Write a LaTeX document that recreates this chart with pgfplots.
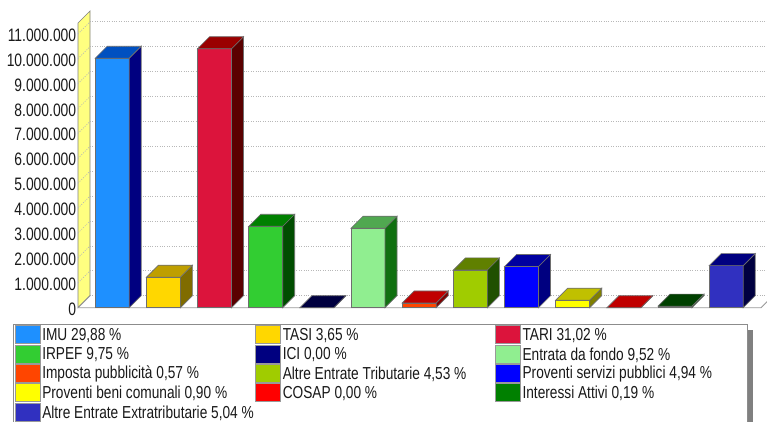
\documentclass[border=0pt]{standalone}
\usepackage{pgfplots}
\pgfplotsset{compat=1.18}
\usepackage{fontspec}
\setmainfont{Liberation Sans}
\newfontfamily\cond[FakeStretch=0.79]{Liberation Sans}
\newfontfamily\condt[FakeStretch=0.77]{Liberation Sans}
\definecolor{bd}{HTML}{6E6E6E}
\definecolor{wall}{HTML}{FFFF80}
\definecolor{imuf}{HTML}{1E90FF}\definecolor{imut}{HTML}{0050C0}\definecolor{imus}{HTML}{000080}
\definecolor{tasif}{HTML}{FFD700}\definecolor{tasit}{HTML}{BF9F00}\definecolor{tasis}{HTML}{806C00}
\definecolor{tarif}{HTML}{DC143C}\definecolor{tarit}{HTML}{9A0000}\definecolor{taris}{HTML}{5A0000}
\definecolor{irpf}{HTML}{32CD32}\definecolor{irpt}{HTML}{008000}\definecolor{irps}{HTML}{004D00}
\definecolor{icif}{HTML}{000080}\definecolor{icit}{HTML}{000040}
\definecolor{entf}{HTML}{90EE90}\definecolor{entt}{HTML}{50A850}\definecolor{ents}{HTML}{107010}
\definecolor{impf}{HTML}{FF4500}\definecolor{impt}{HTML}{C00000}\definecolor{imps}{HTML}{800000}
\definecolor{altf}{HTML}{A0CC00}\definecolor{altt}{HTML}{608000}\definecolor{alts}{HTML}{205000}
\definecolor{prof}{HTML}{0000FF}\definecolor{prot}{HTML}{0000A0}\definecolor{pros}{HTML}{000080}
\definecolor{benf}{HTML}{FFFF00}\definecolor{bent}{HTML}{C0C000}\definecolor{bens}{HTML}{808000}
\definecolor{cosf}{HTML}{FF0000}
\definecolor{intf}{HTML}{008000}\definecolor{intt}{HTML}{004000}
\definecolor{extf}{HTML}{3030C0}\definecolor{extt}{HTML}{000080}\definecolor{exts}{HTML}{000040}
\newcommand\threeD[7]{% index, front value, back value, front, top, side, border
  \pgfmathsetmacro\xa{#1-0.332}\pgfmathsetmacro\xb{#1+0.332}%
  \pgfmathsetmacro\xc{#1-0.332+0.2345}\pgfmathsetmacro\xd{#1+0.332+0.2345}%
  \edef\temp{%
    \noexpand\addplot[fill=#4,draw=#7,line width=0.5pt,mark=none,forget plot] coordinates {(\xa,0) (\xb,0) (\xb,#2) (\xa,#2)} --cycle;
    \noexpand\addplot[fill=#6,draw=#7,line width=0.5pt,mark=none,forget plot] coordinates {(\xb,0) (\xd,481928) (\xd,#3) (\xb,#2)} --cycle;
    \noexpand\addplot[fill=#5,draw=#7,line width=0.5pt,mark=none,forget plot] coordinates {(\xa,#2) (\xb,#2) (\xd,#3) (\xc,#3)} --cycle;
  }\temp
}
\newcommand\legitem[4]{% x, y, colour hex, text
  \definecolor{tmpc}{HTML}{#3}%
  \fill[tmpc] (#1,#2) rectangle ++(25,18);
  \draw[gray!80,line width=0.5pt] (#1,#2) rectangle ++(25,18);
  \node[anchor=west,inner sep=0pt,font=\cond\fontsize{13}{13}\selectfont,text=black!90] at (#1+27,#2+10) {#4};
}
\begin{document}
\begin{tikzpicture}[x=0.75pt,y=-0.75pt]
\path[use as bounding box] (0,0) rectangle (767,421);
\clip (0,0) rectangle (767,421);
% back wall and grid
\fill[white] (0,0) rectangle (767,421);
\fill[wall,draw=gray,line width=0.5pt] (78,307.7)--(90,295.7)--(90,11)--(78,23)--cycle;
\foreach \t in {1,...,11}{
  \pgfmathsetmacro\yy{295.7-24.9*\t}
  \draw[black!28,dash pattern=on 0.8pt off 1pt,line width=0.5pt] (90,\yy)--(767,\yy);
  \draw[black!28,dash pattern=on 0.8pt off 1pt,line width=0.5pt] (78,\yy+12)--(90,\yy);
}
\draw[black!30,dash pattern=on 0.8pt off 1pt,line width=0.5pt] (90,295.7)--(767,295.7);
\draw[black!40,line width=0.6pt] (78,307.7)--(90,295.7);
\draw[black!40,line width=0.6pt] (78,307.7)--(761,307.7)--(773,295.7);
\begin{axis}[
  at={(58.5pt,-230.775pt)},anchor=south west,
  scale only axis,width=512.25pt,height=213.46pt,
  xmin=-0.668,xmax=12.68,ymin=0,ymax=11430000,
  clip=false,
  axis line style={draw=none},
  xtick=\empty,
  ytick={0,1000000,2000000,3000000,4000000,5000000,6000000,7000000,8000000,9000000,10000000,11000000},
  major tick length=0pt,
  scaled y ticks=false,
  yticklabel style={font=\condt\fontsize{13.5}{13.5}\selectfont,text=black!90,inner sep=0pt,xshift=-1.2pt,yshift=-1pt,
    /pgf/number format/.cd,fixed,precision=0,1000 sep={.},assume math mode=true},
]
\threeD{0}{10016000}{10497928}{imuf}{imut}{imus}{bd}
\threeD{1}{1224000}{1705928}{tasif}{tasit}{tasis}{bd}
\threeD{2}{10400000}{10881928}{tarif}{tarit}{taris}{bd}
\threeD{3}{3268000}{3749928}{irpf}{irpt}{irps}{bd}
\threeD{4}{0}{481928}{icif}{icit}{icit}{bd}
\threeD{5}{3192000}{3673928}{entf}{entt}{ents}{bd}
\threeD{6}{191000}{672928}{impf}{impt}{imps}{bd}
\threeD{7}{1518000}{1999928}{altf}{altt}{alts}{bd}
\threeD{8}{1656000}{2137928}{prof}{prot}{pros}{bd}
\threeD{9}{302000}{783928}{benf}{bent}{bens}{bd}
\threeD{10}{0}{481928}{cosf}{impt}{impt}{bd}
\threeD{11}{64000}{545928}{intf}{intt}{intt}{bd}
\threeD{12}{1689000}{2170928}{extf}{extt}{exts}{bd}
\end{axis}
% legend
\fill[black!50] (748,330) rectangle (753,430);
\draw[black!45,fill=white,line width=0.6pt] (13,324.5) rectangle (747.5,440);
\legitem{15}{325.7}{1E90FF}{IMU 29,88 \%}
\legitem{255.5}{325.7}{FFD700}{TASI 3,65 \%}
\legitem{495.3}{325.7}{DC143C}{TARI 31,02 \%}
\legitem{15}{345}{32CD32}{IRPEF 9,75 \%}
\legitem{255.5}{345}{000080}{ICI 0,00 \%}
\legitem{495.3}{345}{90EE90}{Entrata da fondo 9,52 \%}
\legitem{15}{364.3}{FF4500}{Imposta pubblicità 0,57 \%}
\legitem{255.5}{364.3}{A0CC00}{Altre Entrate Tributarie 4,53 \%}
\legitem{495.3}{364.3}{0000FF}{Proventi servizi pubblici 4,94 \%}
\legitem{15}{383.7}{FFFF00}{Proventi beni comunali 0,90 \%}
\legitem{255.5}{383.7}{FF0000}{COSAP 0,00 \%}
\legitem{495.3}{383.7}{008000}{Interessi Attivi 0,19 \%}
\legitem{15}{403}{3030C0}{Altre Entrate Extratributarie 5,04 \%}
\end{tikzpicture}
\end{document}
